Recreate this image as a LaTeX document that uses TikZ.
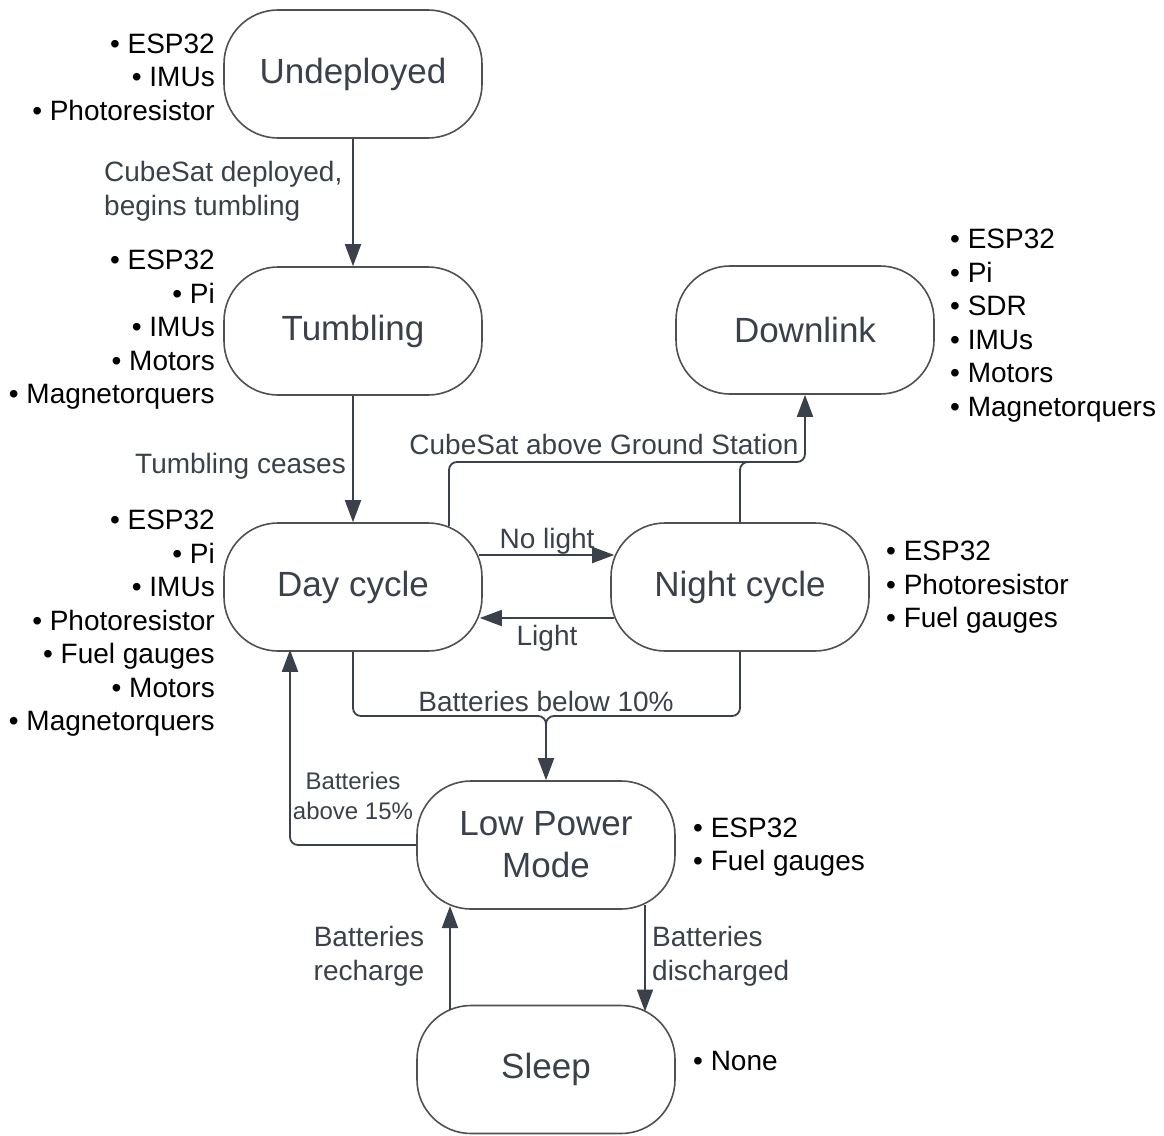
\documentclass[tikz,border=0pt]{standalone}
\usepackage{fontspec}
\setmainfont{Liberation Sans}
\usetikzlibrary{arrows.meta}
\definecolor{ln}{HTML}{3A414A}
\definecolor{bx}{HTML}{505050}
\definecolor{lb}{HTML}{3A414A}
\begin{document}
\begin{tikzpicture}[x=1pt,y=-1pt,
 state/.style={draw=bx, line width=1.6pt, rounded corners=54pt, minimum width=258pt, minimum height=128pt, inner sep=0pt, font=\fontsize{35}{42}\selectfont, text=lb, align=center},
 conn/.style={draw=ln, line width=1.8pt, rounded corners=8pt},
 arr/.style={-{Triangle[length=22pt,width=16pt]}},
 lab/.style={text=lb, font=\fontsize{28}{34}\selectfont, inner sep=0pt},
 blist/.style={font=\fontsize{28}{33.5}\selectfont, inner sep=0pt, text=black}]
\useasboundingbox (0,0) rectangle (1164,1135);
% states
\node[state] (und) at (353,74) {Undeployed};
\node[state] (tum) at (353,331) {Tumbling};
\node[state] (day) at (353,587) {Day cycle};
\node[state] (night) at (740,587) {Night cycle};
\node[state] (down) at (805,330) {Downlink};
\node[state] (lpm) at (546,845) {Low Power\\Mode};
\node[state] (sleep) at (546,1069.5) {Sleep};
% component lists
\node[blist, anchor=east, align=right] (undl) at (215,77) {• ESP32\\• IMUs\\• Photoresistor};
\node[blist, anchor=east, align=right] (tuml) at (215,330) {• ESP32\\• Pi\\• IMUs\\• Motors\\• Magnetorquers};
\node[blist, anchor=east, align=right] (dayl) at (215,623.5) {• ESP32\\• Pi\\• IMUs\\• Photoresistor\\• Fuel gauges\\• Motors\\• Magnetorquers};
\node[blist, anchor=west, align=left] (downl) at (950,325.5) {• ESP32\\• Pi\\• SDR\\• IMUs\\• Motors\\• Magnetorquers};
\node[blist, anchor=west, align=left] (nightl) at (886,587.5) {• ESP32\\• Photoresistor\\• Fuel gauges};
\node[blist, anchor=west, align=left] (lpml) at (693,847) {• ESP32\\• Fuel gauges};
\node[blist, anchor=west, align=left] (sleepl) at (693,1061) {• None};
% connectors
\draw[conn,arr] (und.south) -- (tum.north);
\draw[conn,arr] (tum.south) -- (day.north);
\draw[conn,arr] ([shift={(-4,-32)}]day.east) -- ([shift={(4,-32)}]night.west);
\draw[conn,arr] ([shift={(4,31)}]night.west) -- ([shift={(-3,31)}]day.east);
\coordinate (gs) at (805,462);
\coordinate (gsn) at (795,462);
\draw[conn,arr] ([shift={(96,4)}]day.north) |- (gs) -- (down.south);
\draw[conn] (night.north) |- (gsn);
\coordinate (bj) at (546,716);
\coordinate (bjd) at (546,756);
\draw[conn,arr] (day.south) |- (bj) -- (lpm.north);
\draw[conn] (night.south) |- (bj) -- (bjd);
\draw[conn,arr] (lpm.west) -| ([shift={(-63,-2)}]day.south);
\draw[conn,arr] ([shift={(-96,-60)}]sleep.center) -- ([shift={(-96,61)}]lpm.center);
\draw[conn,arr] ([shift={(99,60)}]lpm.center) -- ([shift={(99,-58)}]sleep.center);
% labels
\node[lab, anchor=west, align=left] (l1) at (104,191) {CubeSat deployed,\\begins tumbling};
\node[lab] (l2) at (240.5,466) {Tumbling ceases};
\node[lab] (l3) at (547,541) {No light};
\node[lab] (l4) at (547,638) {Light};
\node[lab] (l5) at (604,444) {CubeSat above Ground Station};
\node[lab] (l6) at (546,701) {Batteries below 10\%};
\node[lab, align=center, font=\fontsize{24}{30}\selectfont] (l7) at (353,796) {Batteries\\above 15\%};
\node[lab, align=center] (l8) at (369,956) {Batteries\\recharge};
\node[lab, anchor=west, align=left] (l9) at (652,956) {Batteries\\discharged};
\end{tikzpicture}
\end{document}
